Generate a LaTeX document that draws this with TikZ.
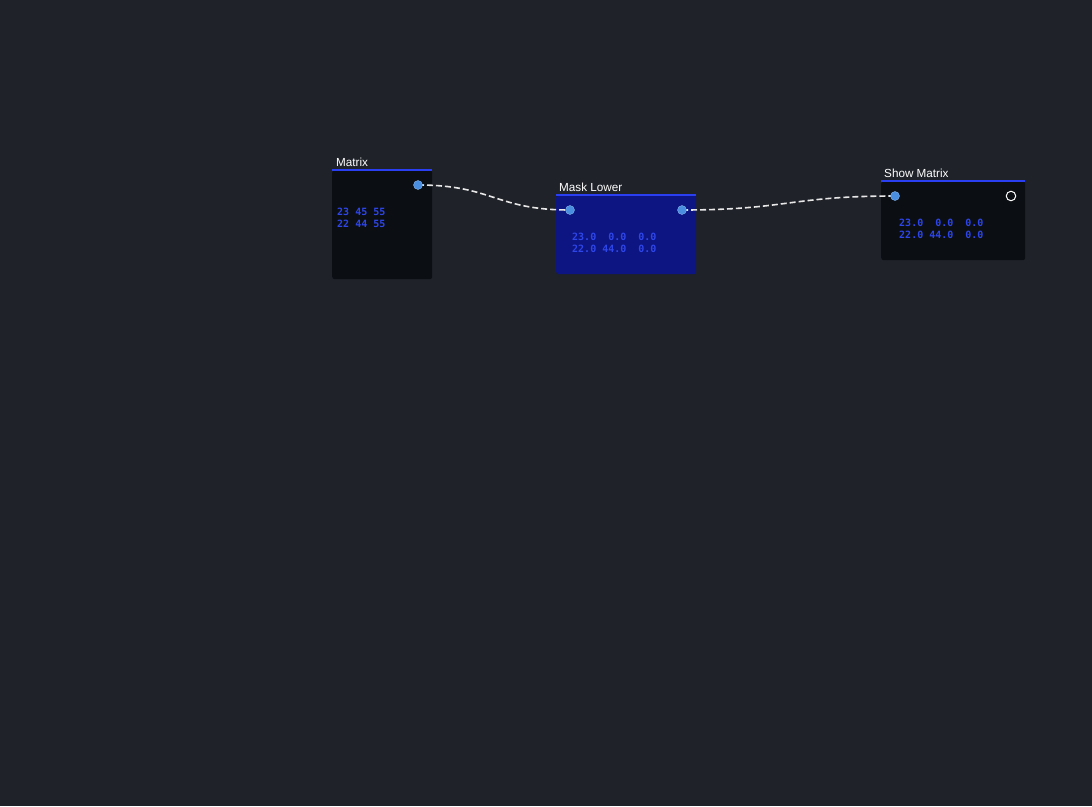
\documentclass[tikz,border=0pt]{standalone}
\usepackage{fontspec}
\setmainfont{Liberation Sans}
\setmonofont{DejaVu Sans Mono}
\usetikzlibrary{positioning}
\definecolor{bgcol}{HTML}{1F2229}
\definecolor{bodycol}{HTML}{0B0F14}
\definecolor{maskcol}{HTML}{0D1582}
\definecolor{headcol}{HTML}{2B3FF2}
\definecolor{valcol}{HTML}{2E45E8}
\definecolor{portcol}{HTML}{4A8EE0}
\definecolor{wirecol}{HTML}{E8E8E8}
\pgfdeclarelayer{ports}
\pgfsetlayers{main,ports}

\begin{document}
\begin{tikzpicture}[
    x=1pt, y=-1pt,
    box/.style={
        fill=bodycol,
        rounded corners=2.5pt,
        anchor=north west,
        inner sep=0pt,
    },
    header/.style={
        draw=headcol,
        line width=2pt,
    },
    title/.style={
        anchor=base west,
        inner sep=0pt,
        text=white,
        font=\fontsize{11.7}{13}\selectfont,
    },
    values/.style={
        anchor=base west,
        inner sep=0pt,
        align=left,
        text=valcol,
        font=\ttfamily\bfseries\fontsize{10}{12}\selectfont,
    },
    port/.style={
        circle,
        fill=portcol,
        draw=portcol!70!white,
        line width=0.4pt,
        inner sep=0pt,
        minimum size=9pt,
    },
    freeport/.style={
        circle,
        draw=white,
        line width=1pt,
        inner sep=0pt,
        minimum size=9.5pt,
    },
    wire/.style={
        draw=wirecol,
        line width=1.6pt,
        dash pattern=on 6pt off 3pt,
    }
]

\useasboundingbox (0,0) rectangle (1092,806);
\fill[bgcol] (0,0) rectangle (1092,806);

% Matrix node
\node[box, minimum width=100pt, minimum height=109pt] (matrix) at (332,170) {};
\draw[header] (matrix.north west) -- (matrix.north east);
\node[title] (matrixtitle) at (336,166) {Matrix};
\node[values] (matrixvals) at (337,227) {23 45 55\\22 44 55};

% Mask Lower node
\node[box, fill=maskcol, minimum width=140pt, minimum height=79pt] (mask) at (556,195) {};
\draw[header] (mask.north west) -- (mask.north east);
\node[title] (masktitle) at (559,191) {Mask Lower};
\node[values] (maskvals) at (572,252) {23.0~~0.0~~0.0\\22.0~44.0~~0.0};

% Show Matrix node
\node[box, minimum width=144pt, minimum height=79pt] (show) at (881,181) {};
\draw[header] (show.north west) -- (show.north east);
\node[title] (showtitle) at (884,177) {Show Matrix};
\node[values] (showvals) at (899,238) {23.0~~0.0~~0.0\\22.0~44.0~~0.0};

% ports
\begin{pgfonlayer}{ports}
\node[port] (matrixout) at (418,185) {};
\node[port] (maskin) at (570,210) {};
\node[port] (maskout) at (682,210) {};
\node[port] (showin) at (895,196) {};
\node[freeport] (showout) at (1011,196) {};
\end{pgfonlayer}

% wires
\draw[wire] (matrixout.center) .. controls +(75,0) and +(-75,0) .. (maskin.center);
\draw[wire] (maskout.center) .. controls +(105,0) and +(-105,0) .. (showin.center);
\end{tikzpicture}
\end{document}
